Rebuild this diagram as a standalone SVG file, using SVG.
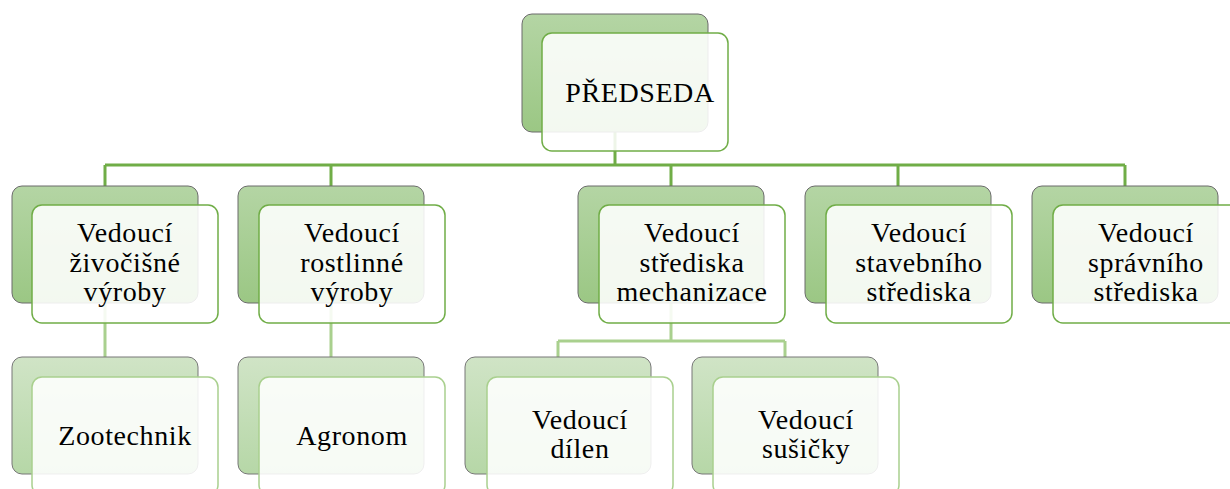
<svg xmlns="http://www.w3.org/2000/svg" width="1230" height="489" viewBox="0 0 1230 489">
<defs>
<linearGradient id="g1" x1="0" y1="0" x2="0" y2="1"><stop offset="0" stop-color="#b4d5a4"/><stop offset="1" stop-color="#9bc784"/></linearGradient>
<linearGradient id="g2" x1="0" y1="0" x2="0" y2="1"><stop offset="0" stop-color="#d0e4c6"/><stop offset="1" stop-color="#b6d7a7"/></linearGradient>
<style>
.b1{fill:url(#g1);stroke:#6b6b6b;stroke-width:1}
.b2{fill:url(#g2);stroke:#777;stroke-width:1}
.f1{fill:#fff;fill-opacity:0.88;stroke:#70ad47;stroke-width:1.5}
.f2{fill:#fff;fill-opacity:0.88;stroke:#a9d08e;stroke-width:1.5}
.c1{fill:none;stroke:#70ad47;stroke-width:3}
.c2{fill:none;stroke:#a9d08e;stroke-width:3}
.t{font-family:'Liberation Serif','Times New Roman',Times,serif;font-size:28px;fill:#000;text-anchor:middle;letter-spacing:0.6px}
</style>
</defs>
<rect width="1230" height="489" fill="#fff"/>
<g id="connectors">
<path class="c1" d="M615,132 V165 M105,165 H1125 M105,165 V186 M331,165 V186 M671,165 V186 M898,165 V186 M1125,165 V186"/>
<path class="c2" d="M105,303 V357 M331,303 V357 M671,303 V341 M558,341 H785 M558,341 V357 M785,341 V357"/>
</g>
<g id="predseda">
<rect class="b1" x="522" y="14" width="186" height="118" rx="10"/>
<rect class="f1" x="542" y="33" width="186" height="118" rx="10"/>
<text class="t" font-family="Liberation Serif" x="640" y="102">PŘEDSEDA</text>
</g>
<g id="zivocisne" class="t" font-family="Liberation Serif">
<rect class="b1" x="12" y="186" width="186" height="117" rx="10"/>
<rect class="f1" x="32" y="205" width="186" height="118" rx="10"/>
<text class="t" x="125" y="242">Vedoucí</text>
<text class="t" x="125" y="272">živočišné</text>
<text class="t" x="125" y="301">výroby</text>
</g>
<g id="rostlinne">
<rect class="b1" x="238" y="186" width="186" height="117" rx="10"/>
<rect class="f1" x="259" y="205" width="186" height="118" rx="10"/>
<text class="t" x="352" y="242">Vedoucí</text>
<text class="t" x="352" y="272">rostlinné</text>
<text class="t" x="352" y="301">výroby</text>
</g>
<g id="mechanizace">
<rect class="b1" x="578" y="186" width="186" height="117" rx="10"/>
<rect class="f1" x="599" y="205" width="186" height="118" rx="10"/>
<text class="t" x="692" y="242">Vedoucí</text>
<text class="t" x="692" y="272">střediska</text>
<text class="t" x="692" y="301">mechanizace</text>
</g>
<g id="stavebni">
<rect class="b1" x="805" y="186" width="186" height="117" rx="10"/>
<rect class="f1" x="826" y="205" width="186" height="118" rx="10"/>
<text class="t" x="919" y="242">Vedoucí</text>
<text class="t" x="919" y="272">stavebního</text>
<text class="t" x="919" y="301">střediska</text>
</g>
<g id="spravni">
<rect class="b1" x="1032" y="186" width="186" height="117" rx="10"/>
<rect class="f1" x="1053" y="205" width="186" height="118" rx="10"/>
<text class="t" x="1146" y="242">Vedoucí</text>
<text class="t" x="1146" y="272">správního</text>
<text class="t" x="1146" y="301">střediska</text>
</g>
<g id="zootechnik">
<rect class="b2" x="12" y="357" width="186" height="117" rx="10"/>
<rect class="f2" x="32" y="377" width="186" height="118" rx="10"/>
<text class="t" x="125" y="445">Zootechnik</text>
</g>
<g id="agronom">
<rect class="b2" x="238" y="357" width="186" height="117" rx="10"/>
<rect class="f2" x="259" y="377" width="186" height="118" rx="10"/>
<text class="t" x="352" y="445">Agronom</text>
</g>
<g id="dilen">
<rect class="b2" x="465" y="357" width="186" height="117" rx="10"/>
<rect class="f2" x="487" y="377" width="186" height="118" rx="10"/>
<text class="t" x="580" y="429">Vedoucí</text>
<text class="t" x="580" y="458">dílen</text>
</g>
<g id="susicky">
<rect class="b2" x="692" y="357" width="186" height="117" rx="10"/>
<rect class="f2" x="713" y="377" width="186" height="118" rx="10"/>
<text class="t" x="806" y="429">Vedoucí</text>
<text class="t" x="806" y="458">sušičky</text>
</g>
</svg>
